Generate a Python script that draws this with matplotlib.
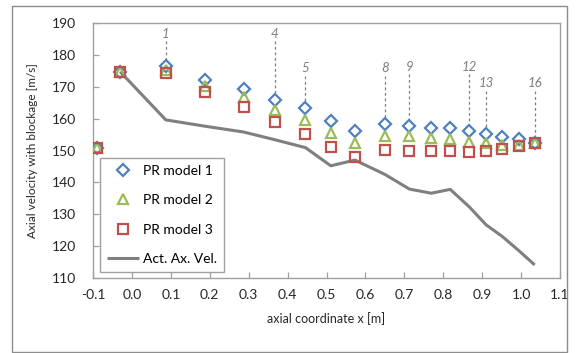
import matplotlib
matplotlib.use("Agg")
import matplotlib.pyplot as plt
from matplotlib.patches import Rectangle

plt.rcParams['font.family'] = ['Lato', 'DejaVu Sans']

# Axial coordinate of each station [m]
x_pos = [-0.09, -0.030, 0.087, 0.189, 0.287, 0.3665, 0.446, 0.511, 0.573,
         0.650, 0.713, 0.769, 0.818, 0.867, 0.910, 0.952, 0.994, 1.035]

# Axial velocity with blockage [m/s] for the three PR models
pr_model_1 = [150.9, 174.7, 176.6, 172.2, 169.2, 165.9, 163.2, 159.1, 156.1,
              158.3, 157.7, 157.2, 157.2, 156.2, 155.2, 154.2, 153.5, 152.3]
pr_model_2 = [150.9, 174.7, 175.2, 170.3, 166.9, 162.7, 159.6, 155.4, 152.5,
              154.7, 154.4, 153.9, 153.6, 152.8, 152.3, 151.8, 151.7, 152.3]
pr_model_3 = [150.9, 174.7, 174.3, 168.5, 163.8, 159.0, 155.2, 151.0, 148.1,
              150.2, 149.9, 149.7, 149.7, 149.4, 149.7, 150.4, 151.3, 152.3]

# Actual axial velocity (from the second station onward)
act_x = x_pos[1:]
act_vel = [174.7, 159.6, 157.6, 155.8, 153.4, 150.9, 145.2, 147.0, 142.5,
           137.9, 136.6, 137.8, 132.3, 126.7, 123.0, 118.6, 114.1]

# Numbered stations: label text, station index, label height
station_labels = ["1", "4", "5", "8", "9", "12", "13", "16"]
station_index = [2, 5, 6, 9, 10, 13, 14, 17]
label_y = [186.7, 186.5, 175.8, 175.8, 176.3, 176.3, 171.1, 171.1]

x_ticks = [-0.1, 0.0, 0.1, 0.2, 0.3, 0.4, 0.5, 0.6, 0.7, 0.8, 0.9, 1.0, 1.1]
y_ticks = [110, 120, 130, 140, 150, 160, 170, 180, 190]

blue = "#4F81BD"
green = "#9BBB59"
red = "#C0504D"
grey_line = "#7F7F7F"
frame = "#A0A0A0"

fig = plt.figure(figsize=(5.76, 3.53), dpi=100)
ax = fig.add_axes([93 / 576, 1 - 278 / 353, (560 - 93) / 576, (278 - 23) / 353])

# Outer chart border
fig.patches.append(Rectangle((12 / 576, 1 / 353), 555 / 576, 346 / 353,
                             transform=fig.transFigure, fill=False,
                             edgecolor="#8C8C8C", linewidth=1.0))

ax.plot(act_x, act_vel, color=grey_line, linewidth=2.2, zorder=2,
        label="Act. Ax. Vel.", solid_capstyle="butt")
ax.plot(x_pos, pr_model_1, linestyle="none", marker="D", markersize=5.8,
        markerfacecolor="none", markeredgecolor=blue, markeredgewidth=1.6,
        zorder=3, label="PR model 1")
ax.plot(x_pos, pr_model_2, linestyle="none", marker="^", markersize=7.4,
        markerfacecolor="none", markeredgecolor=green, markeredgewidth=1.6,
        zorder=4, label="PR model 2")
ax.plot(x_pos, pr_model_3, linestyle="none", marker="s", markersize=7.2,
        markerfacecolor="none", markeredgecolor=red, markeredgewidth=1.6,
        zorder=5, label="PR model 3")

# Station numbers with dashed leaders
for txt, idx, ly in zip(station_labels, station_index, label_y):
    xv = x_pos[idx]
    ax.text(xv, ly, txt, ha="center", va="center", fontsize=9.5,
            style="italic", color="#7F7F7F", zorder=6)
    ax.plot([xv, xv], [ly - 2.3, pr_model_1[idx] + 2.1], color="#7F7F7F",
            linewidth=0.9, linestyle=(0, (2.2, 2.2)), zorder=2)

ax.set_xlim(-0.1, 1.1)
ax.set_ylim(110, 190)
ax.set_xticks(x_ticks)
ax.set_xticklabels([f"{v:.1f}" for v in x_ticks])
ax.set_yticks(y_ticks)
ax.set_yticklabels([str(v) for v in y_ticks])
ax.tick_params(direction="in", length=4, width=0.9, color=frame,
               labelsize=10, labelcolor="#262626")
ax.tick_params(axis="x", pad=8)
ax.tick_params(axis="y", pad=12)
for sp in ax.spines.values():
    sp.set_color(frame)
    sp.set_linewidth(1.0)

ax.set_xlabel("axial coordinate x [m]", fontsize=9, color="#262626",
              labelpad=8)
ax.set_ylabel("Axial velocity with blockage [m/s]", fontsize=8.5,
              color="#262626", labelpad=10)

handles, labels = ax.get_legend_handles_labels()
order = [1, 2, 3, 0]
leg = ax.legend([handles[i] for i in order], [labels[i] for i in order],
                loc="lower left", bbox_to_anchor=(100 / 576, 1 - 272 / 353),
                bbox_transform=fig.transFigure, fontsize=10, frameon=True,
                fancybox=False, edgecolor=frame, framealpha=1,
                handlelength=2.3, labelspacing=1.25, borderpad=0.5,
                handletextpad=0.3, borderaxespad=0)
leg.get_frame().set_linewidth(1.0)

fig.savefig("out.png", dpi=100)
